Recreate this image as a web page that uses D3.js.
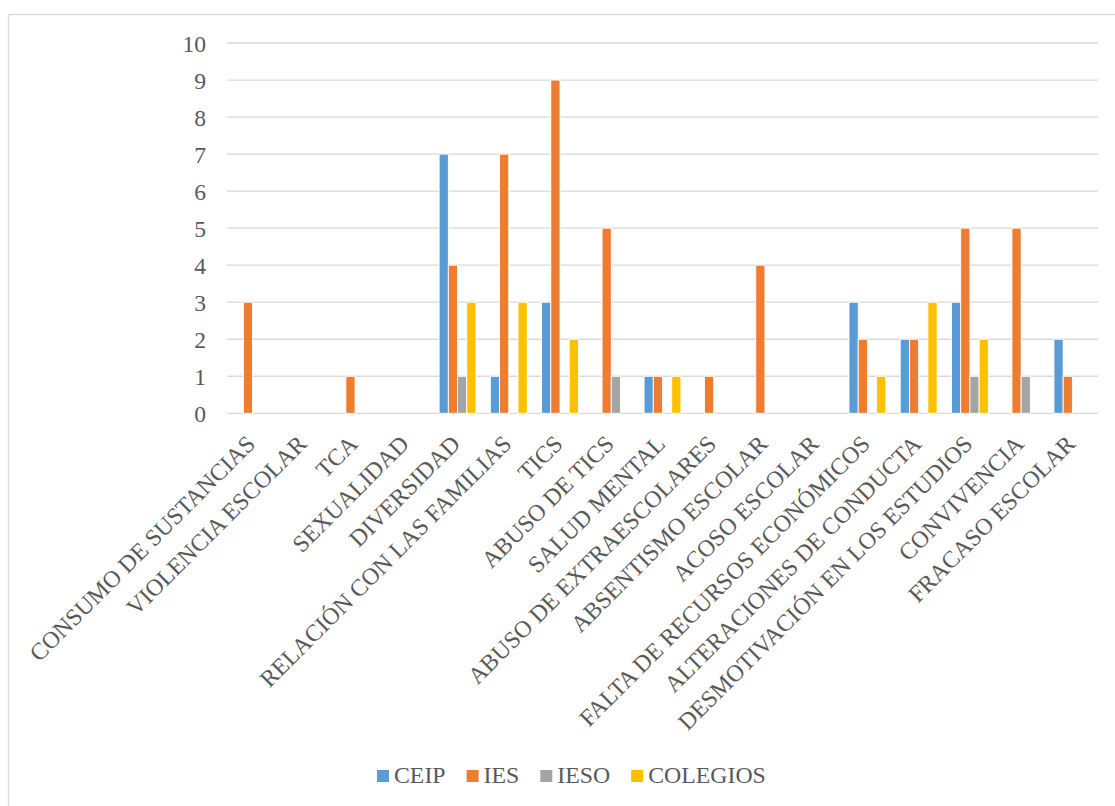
<!DOCTYPE html>
<html>
<head>
<meta charset="utf-8">
<script src="https://cdn.jsdelivr.net/npm/d3@7"></script>
<style>
  html, body { margin: 0; padding: 0; background: #fff; }
  svg { display: block; }
  svg text { font-family: "Liberation Serif", "Times New Roman", serif !important; }
</style>
</head>
<body>
<svg id="chart" width="1115" height="806"></svg>
<script>
const categories = [
  "CONSUMO DE SUSTANCIAS", "VIOLENCIA ESCOLAR", "TCA", "SEXUALIDAD", "DIVERSIDAD",
  "RELACIÓN CON LAS FAMILIAS", "TICS", "ABUSO DE TICS", "SALUD MENTAL",
  "ABUSO DE EXTRAESCOLARES", "ABSENTISMO ESCOLAR", "ACOSO ESCOLAR",
  "FALTA DE RECURSOS ECONÓMICOS", "ALTERACIONES DE CONDUCTA",
  "DESMOTIVACIÓN EN LOS ESTUDIOS", "CONVIVENCIA", "FRACASO ESCOLAR"
];
const seriesNames = ["CEIP", "IES", "IESO", "COLEGIOS"];
const ceip     = [0, 0, 0, 0, 7, 1, 3, 0, 1, 0, 0, 0, 3, 2, 3, 0, 2];
const ies      = [3, 0, 1, 0, 4, 7, 9, 5, 1, 1, 4, 0, 2, 2, 5, 5, 1];
const ieso     = [0, 0, 0, 0, 1, 0, 0, 1, 0, 0, 0, 0, 0, 0, 1, 1, 0];
const colegios = [0, 0, 0, 0, 3, 3, 2, 0, 1, 0, 0, 0, 1, 3, 2, 0, 0];
const yTicks = [0, 1, 2, 3, 4, 5, 6, 7, 8, 9, 10];
const colors = ["#5B9BD5", "#ED7D31", "#A5A5A5", "#FFC000"];

(function () {
const seriesValues = [ceip, ies, ieso, colegios];
const table = categories.map((c, i) => ({
  cat: c,
  vals: seriesNames.map((s, j) => ({ s, v: seriesValues[j][i], j }))
}));

const svg = d3.select("#chart");
const FONT = "Liberation Serif";
const TXT = "#595959";

// frame
svg.append("rect")
  .attr("x", 8.5).attr("y", 14.5)
  .attr("width", 1200).attr("height", 1000)
  .attr("fill", "#fff").attr("stroke", "#d9d9d9").attr("stroke-width", 1.3);

const pLeft = 227, pRight = 1098, pTop = 43, pBottom = 413.3;

const x0 = d3.scaleBand().domain(categories).range([pLeft, pRight])
  .paddingInner(0.28).paddingOuter(0.14);
const x1 = d3.scaleBand().domain(seriesNames).range([0, x0.bandwidth()]);
const y = d3.scaleLinear().domain([0, 10]).range([pBottom, pTop]);

// gridlines
svg.append("g").selectAll("line").data(yTicks).join("line")
  .attr("x1", pLeft).attr("x2", pRight)
  .attr("y1", d => y(d)).attr("y2", d => y(d))
  .attr("stroke", "#d9d9d9").attr("stroke-width", 1.3);

// y axis labels
const yAxis = d3.axisLeft(y).tickValues(yTicks).tickSize(0).tickPadding(0);
const yg = svg.append("g").attr("transform", `translate(206,0)`).call(yAxis)
  .attr("font-family", FONT);
yg.select(".domain").remove();
yg.selectAll("text")
  .attr("font-size", 23.6).attr("fill", TXT)
  .attr("dy", "0.34em");

// bars
svg.append("g").selectAll("g").data(table).join("g")
  .attr("transform", d => `translate(${x0(d.cat)},0)`)
  .selectAll("rect").data(d => d.vals.filter(v => v.v > 0)).join("rect")
  .attr("x", d => x1(d.s))
  .attr("y", d => y(d.v))
  .attr("width", x1.bandwidth())
  .attr("height", d => y(0) - y(d.v))
  .attr("fill", d => colors[d.j])
  .attr("stroke", "#fff").attr("stroke-width", 0.9);

// x axis labels
const xAxis = d3.axisBottom(x0).tickSize(0).tickPadding(0);
const xg = svg.append("g").attr("transform", `translate(0,${pBottom})`).call(xAxis)
  .attr("font-family", FONT);
xg.select(".domain").remove();
xg.selectAll("text")
  .attr("font-size", 23.8).attr("fill", TXT)
  .attr("text-anchor", "end")
  .attr("dy", null).attr("y", null)
  .attr("transform", "translate(4,32) rotate(-45)");

// legend
const leg = svg.append("g").attr("font-family", FONT).attr("font-size", 23.8).attr("fill", TXT);
let lx = 377;
seriesNames.forEach((s, i) => {
  leg.append("rect").attr("x", lx).attr("y", 770).attr("width", 12).attr("height", 12)
    .attr("fill", colors[i]);
  const t = leg.append("text").attr("x", lx + 17).attr("y", 783).text(s);
  const w = t.node().getComputedTextLength();
  lx = lx + 17 + w + 21;
});
})();
</script>
</body>
</html>
